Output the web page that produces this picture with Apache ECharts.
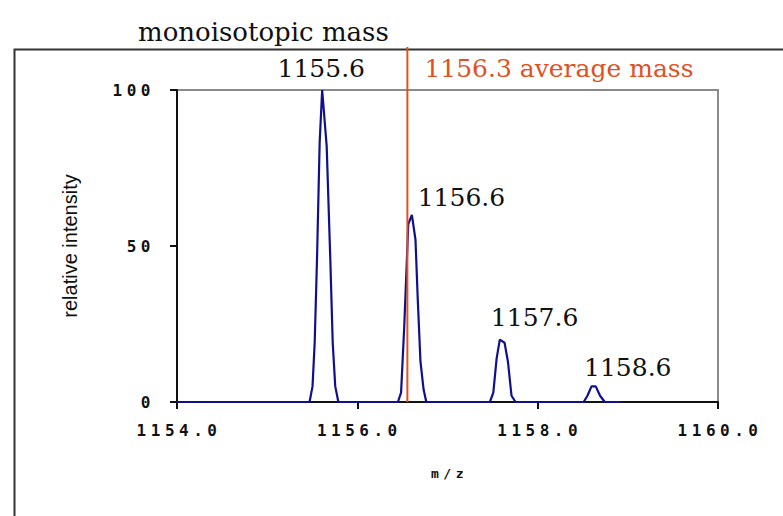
<!DOCTYPE html>
<html>
<head>
<meta charset="utf-8">
<style>
  html, body { margin: 0; padding: 0; background: #fff; }
  #chart { width: 783px; height: 516px; }
  /* old-style spaced tick font */
  #chart text[style*="Mono"] { letter-spacing: 4.5px; }
</style>
<script src="https://cdn.jsdelivr.net/npm/echarts@6/dist/echarts.min.js"></script>
</head>
<body>
<div id="chart"></div>
<script>
  // profile of the isotope cluster (m/z, relative intensity)
  var mz = [1154.0,
    1155.47, 1155.503, 1155.527, 1155.553, 1155.582, 1155.61, 1155.66, 1155.70, 1155.727, 1155.755, 1155.79,
    1156.45, 1156.485, 1156.52, 1156.565, 1156.605, 1156.645, 1156.67, 1156.70, 1156.735, 1156.765,
    1157.47, 1157.508, 1157.545, 1157.58, 1157.633, 1157.67, 1157.71, 1157.755,
    1158.51, 1158.552, 1158.597, 1158.644, 1158.692, 1158.745,
    1158.92];
  var intensity = [0,
    0, 5, 19, 46, 83, 100, 82, 46, 19, 5, 0,
    0, 3, 24, 57, 60, 52, 33, 13, 4, 0,
    0, 3, 14, 20, 19, 13, 2, 0,
    0, 2, 5, 5, 2, 0,
    0];

  // peak labels
  var peakMz = [1155.6, 1156.6, 1157.6, 1158.6];
  var peakTop = [100, 60, 20, 5];
  var peakText = ['1155.6', '1156.6', '1157.6', '1158.6'];

  // average mass marker
  var avgMz = 1156.555;
  var avgText = '1156.3 average mass';

  var xTicks = [1154, 1160, 2];
  var yTicks = [0, 100, 50];

  var blue = '#10108f';
  var red = '#e0511f';
  var labelOffsets = [[0, -22], [50, -17], [33, -22], [36, -19]];

  var profile = mz.map(function (m, i) { return [m, intensity[i]]; });
  var peaks = peakMz.map(function (m, i) {
    return {
      value: [m, peakTop[i]],
      label: { formatter: peakText[i], offset: labelOffsets[i] }
    };
  });

  var tickFont = {
    color: '#111',
    fontFamily: 'DejaVu Sans Mono',
    fontWeight: 'bold',
    fontSize: 16
  };
  var serif = 'DejaVu Serif';

  var myChart = echarts.init(document.getElementById('chart'), null, { renderer: 'svg' });
  myChart.setOption({
    animation: false,
    backgroundColor: '#fff',
    title: {
      text: 'monoisotopic mass',
      left: 133,
      top: 14,
      textStyle: { fontFamily: serif, fontWeight: 'normal', fontSize: 26, color: '#111' }
    },
    graphic: [{
      type: 'rect',
      left: 12,
      top: 47,
      shape: { width: 900, height: 600 },
      style: { fill: null, stroke: '#333', lineWidth: 2 },
      silent: true
    }],
    grid: [
      { left: 177, right: 65, top: 90, bottom: 114, show: true, borderColor: '#8a8a8a', borderWidth: 2 },
      { left: 177, right: 65, top: 47, bottom: 114 }
    ],
    xAxis: [{
      type: 'value',
      min: xTicks[0], max: xTicks[1], interval: xTicks[2],
      name: 'm/z',
      nameLocation: 'middle',
      nameGap: 65,
      nameTextStyle: { fontFamily: 'DejaVu Sans Mono', fontWeight: 'bold', fontSize: 13, color: '#111', padding: [0, 0, 0, 4] },
      axisLine: { lineStyle: { color: '#111', width: 2 } },
      axisTick: { length: 7, lineStyle: { color: '#111', width: 2 } },
      axisLabel: Object.assign({ margin: 20, padding: [0, 0, 0, 4], formatter: function (v) { return v.toFixed(1); } }, tickFont),
      splitLine: { show: false }
    }, {
      gridIndex: 1, type: 'value', min: xTicks[0], max: xTicks[1], show: false
    }],
    yAxis: [{
      type: 'value',
      min: yTicks[0], max: yTicks[1], interval: yTicks[2],
      name: 'relative intensity',
      nameLocation: 'middle',
      nameRotate: 90,
      nameGap: 97,
      nameTextStyle: { fontFamily: 'Liberation Sans', fontSize: 20, color: '#111' },
      axisLine: { lineStyle: { color: '#111', width: 2 } },
      axisTick: { length: 7, lineStyle: { color: '#111', width: 2 } },
      axisLabel: Object.assign({ margin: 22 }, tickFont),
      splitLine: { show: false }
    }, {
      gridIndex: 1, type: 'value', min: 0, max: 1, show: false
    }],
    series: [{
      type: 'line',
      data: profile,
      symbol: 'none',
      lineStyle: { color: blue, width: 2.2 },
      z: 3
    }, {
      type: 'scatter',
      data: peaks,
      symbolSize: 0,
      itemStyle: { opacity: 1 },
      label: {
        show: true,
        position: 'inside',
        fontFamily: serif,
        fontSize: 25,
        color: '#111'
      },
      z: 5
    }, {
      type: 'line',
      xAxisIndex: 1,
      yAxisIndex: 1,
      symbol: 'circle',
      symbolSize: 0,
      showSymbol: true,
      data: [[avgMz, 0], {
        value: [avgMz, 1],
        label: {
          show: true,
          position: 'right',
          distance: 0,
          offset: [17, 21],
          formatter: avgText,
          fontFamily: serif,
          fontSize: 25,
          color: red
        }
      }],
      lineStyle: { color: red, width: 2 },
      z: 4
    }]
  });
</script>
</body>
</html>
